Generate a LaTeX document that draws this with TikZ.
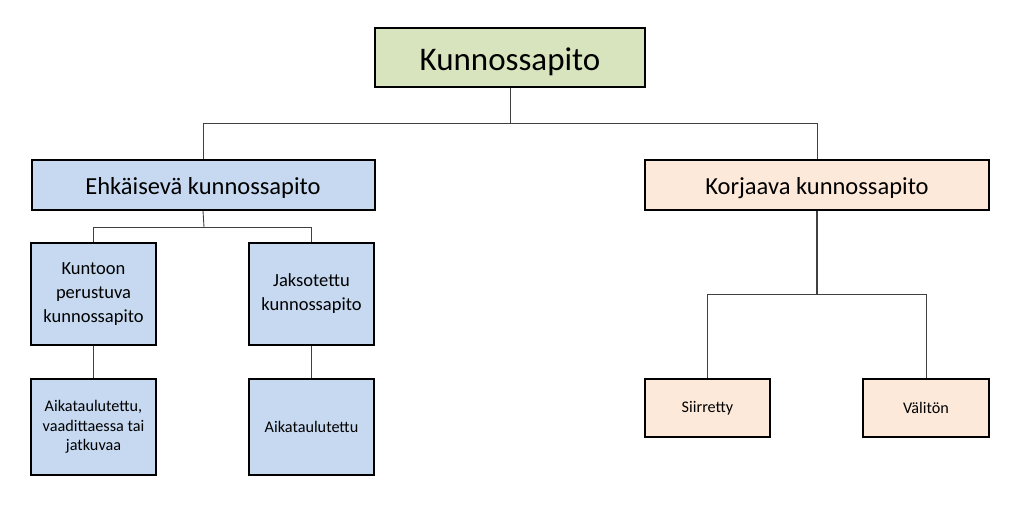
\documentclass[tikz,border=0pt]{standalone}
\usepackage{fontspec}
\setmainfont{Carlito}
\definecolor{cgreen}{HTML}{D7E4BD}
\definecolor{cblue}{HTML}{C6D9F1}
\definecolor{cpeach}{HTML}{FDE9D9}
\definecolor{cline}{HTML}{404040}
\begin{document}
\begin{tikzpicture}[x=1pt,y=-1pt,
  box/.style={draw=black,line width=2pt,inner sep=0pt,align=center},
  conn/.style={draw=cline,line width=0.9pt}]
\useasboundingbox[fill=white] (0,0) rectangle (1024,506);
\node[box,fill=cgreen,minimum width=270pt,minimum height=59pt,font=\fontsize{33}{38}\selectfont,text height=27pt,text depth=2pt] (top) at (510,57.5) {Kunnossapito};
\node[box,fill=cblue,minimum width=343pt,minimum height=50pt,font=\fontsize{24.5}{29}\selectfont,text height=20pt,text depth=2pt] (ehk) at (203,185) {Ehkäisevä kunnossapito};
\node[box,fill=cpeach,minimum width=344pt,minimum height=50pt,font=\fontsize{24.5}{29}\selectfont,text height=20pt,text depth=2pt] (kor) at (817,185) {Korjaava kunnossapito};
\node[box,fill=cblue,minimum width=125pt,minimum height=102pt,font=\fontsize{18.5}{24}\selectfont] (kun) at (93.5,294) {Kuntoon\\perustuva\\kunnossapito};
\node[box,fill=cblue,minimum width=125pt,minimum height=102pt,font=\fontsize{18.5}{24}\selectfont] (jak) at (311.5,294) {Jaksotettu\\kunnossapito};
\node[box,fill=cblue,minimum width=125pt,minimum height=96pt,font=\fontsize{16.2}{19.5}\selectfont] (aik1) at (93.5,427) {Aikataulutettu,\\vaadittaessa tai\\jatkuvaa};
\node[box,fill=cblue,minimum width=125pt,minimum height=96pt,font=\fontsize{16.2}{19.5}\selectfont] (aik2) at (311.5,427) {Aikataulutettu};
\node[box,fill=cpeach,minimum width=125pt,minimum height=58pt,font=\fontsize{16.2}{19.5}\selectfont] (sii) at (707.5,408) {Siirretty};
\node[box,fill=cpeach,minimum width=126pt,minimum height=58pt,font=\fontsize{16.2}{19.5}\selectfont] (val) at (926,408) {Välitön};
\coordinate (j1) at (510,123);
\coordinate (j2) at (204,227);
\coordinate (j3) at (817,294);
\draw[conn] (top.south) -- (j1);
\draw[conn] (j1) -| (ehk.north);
\draw[conn] (j1) -| (kor.north);
\draw[conn] (ehk.south) -- (j2);
\draw[conn] (j2) -| (kun.north);
\draw[conn] (j2) -| (jak.north);
\draw[conn,line width=1.3pt] (kor.south) -- (j3);
\draw[conn] (j3) -| (sii.north);
\draw[conn] (j3) -| (val.north);
\draw[conn] (kun.south) -- (aik1.north);
\draw[conn] (jak.south) -- (aik2.north);
\end{tikzpicture}
\end{document}
